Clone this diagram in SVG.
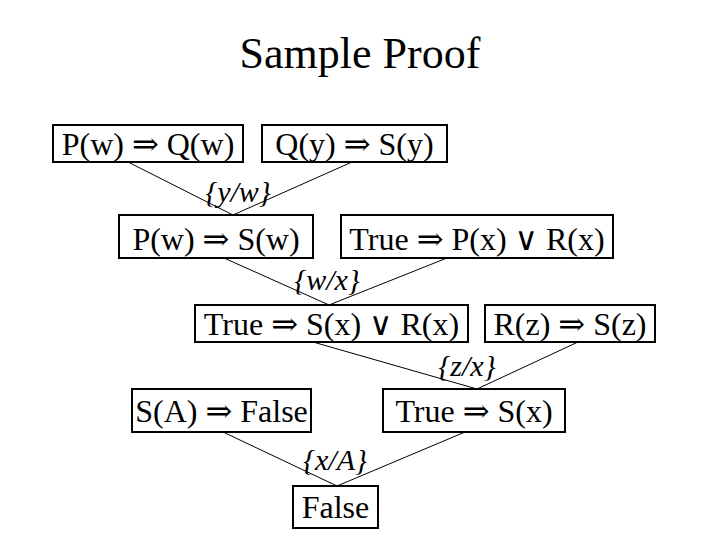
<svg xmlns="http://www.w3.org/2000/svg" width="720" height="540" viewBox="0 0 720 540">
<style>
.box rect{fill:#fff;stroke:#000;stroke-width:2}
.box text{font-family:"Liberation Serif","DejaVu Serif",serif;font-size:32px;text-anchor:middle;fill:#000}
.lbl{font-family:"Liberation Serif","DejaVu Serif",serif;font-size:30px;font-style:italic;text-anchor:middle;fill:#000}
#edges line{stroke:#000;stroke-width:1}
.title{font-family:"Liberation Serif","DejaVu Serif",serif;font-size:44px;text-anchor:middle;fill:#000}
</style>
<rect width="720" height="540" fill="#fff"/>
<text class="title" x="360" y="68">Sample Proof</text>
<g id="edges">
<line x1="128" y1="162" x2="233" y2="215"/>
<line x1="352" y1="162" x2="233" y2="215"/>
<line x1="224" y1="258" x2="329" y2="305"/>
<line x1="447" y1="258" x2="329" y2="305"/>
<line x1="313" y1="342" x2="477" y2="389"/>
<line x1="578" y1="342" x2="477" y2="389"/>
<line x1="223" y1="432" x2="337" y2="486"/>
<line x1="465" y1="432" x2="337" y2="486"/>
</g>
<g id="labels">
<text class="lbl" x="238" y="202">{y/w}</text>
<text class="lbl" x="327" y="290">{w/x}</text>
<text class="lbl" x="467" y="376">{z/x}</text>
<text class="lbl" x="335" y="470">{x/A}</text>
</g>
<g id="n1" class="box"><rect x="53" y="125" width="190" height="37"/><text x="148" y="155">P(w) ⇒ Q(w)</text></g>
<g id="n2" class="box"><rect x="262" y="125" width="185" height="37"/><text x="354.5" y="155">Q(y) ⇒ S(y)</text></g>
<g id="n3" class="box"><rect x="119" y="215" width="194" height="43"/><text x="216" y="250">P(w) ⇒ S(w)</text></g>
<g id="n4" class="box"><rect x="341" y="215" width="272" height="43"/><text x="477" y="250">True ⇒ P(x) ∨ R(x)</text></g>
<g id="n5" class="box"><rect x="195" y="305" width="273" height="37"/><text x="331.5" y="335">True ⇒ S(x) ∨ R(x)</text></g>
<g id="n6" class="box"><rect x="485" y="305" width="170" height="37"/><text x="570" y="335">R(z) ⇒ S(z)</text></g>
<g id="n7" class="box"><rect x="132" y="389" width="179" height="43"/><text x="221.5" y="422">S(A) ⇒ False</text></g>
<g id="n8" class="box"><rect x="383" y="389" width="182" height="43"/><text x="474" y="422">True ⇒ S(x)</text></g>
<g id="n9" class="box"><rect x="293" y="486" width="85" height="42"/><text x="335.5" y="518">False</text></g>
</svg>
